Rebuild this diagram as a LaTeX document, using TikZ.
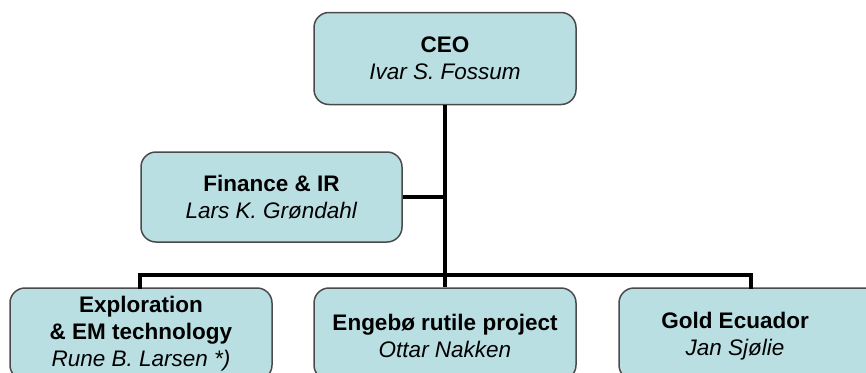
\documentclass[tikz,border=0pt]{standalone}
\usepackage{fontspec}
\setmainfont{Liberation Sans}
\definecolor{boxfill}{HTML}{BADFE3}
\definecolor{boxline}{HTML}{4A4A4A}
\begin{document}
\begin{tikzpicture}[x=1pt,y=-1pt,
  orgbox/.style={draw=boxline, line width=1.5pt, fill=boxfill, rounded corners=15pt,
    minimum width=262pt, minimum height=92pt, align=center, inner sep=0pt,
    font=\fontsize{22.5}{27}\selectfont},
  boxtext/.style={align=center, inner sep=0pt, font=\fontsize{22.5}{27}\selectfont},
  link/.style={draw=black, line width=3.5pt}]
\useasboundingbox (0,0) rectangle (866,372);
\clip (0,0) rectangle (866,372);
\fill[white] (0,0) rectangle (866,372);
\node[orgbox] (ceo) at (445,58.5) {\textbf{CEO}\\\textit{Ivar S. Fossum}};
\node[orgbox, minimum width=261pt, minimum height=90pt] (fin) at (271.5,197) {\textbf{Finance \& IR}\\\textit{Lars K. Grøndahl}};
\node[orgbox] (exp) at (141,334) {};
\node[boxtext] (expt) at (141,334) {\textbf{Exploration}\\\textbf{\& EM technology}\\\textit{Rune B. Larsen *)}};
\node[orgbox] (eng) at (445,334) {};
\node[boxtext] (engt) at (445,336) {\textbf{Engebø rutile project}\\\textit{Ottar Nakken}};
\node[orgbox] (gold) at (750,334) {};
\node[boxtext] (goldt) at (735,336) {\textbf{Gold Ecuador}\\\textit{Jan Sjølie}};
\coordinate (bus) at (445,275);
\coordinate (finj) at (445,197);
\draw[link] (ceo.south) -- (bus);
\draw[link] (fin.east) -- (finj);
\draw[link] (bus) -- (bus -| eng.north) -- (eng.north);
\draw[link] (bus) -- (140,275) -- (140,288.75);
\draw[link] (bus) -- (751,275) -- (751,288.75);
\end{tikzpicture}
\end{document}
